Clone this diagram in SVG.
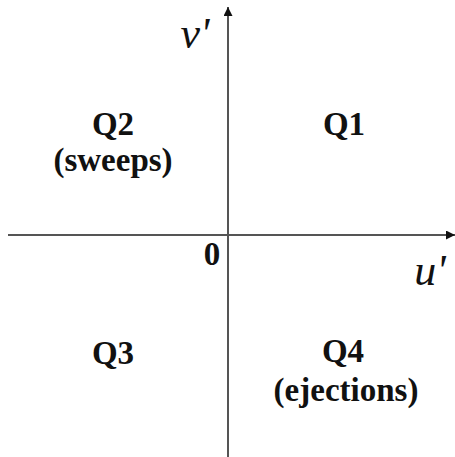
<svg xmlns="http://www.w3.org/2000/svg" width="455" height="457" viewBox="0 0 455 457">
<style>
.ax{stroke:#555;stroke-width:2;fill:none}
.q{font-weight:bold;font-size:33px;fill:#111;text-anchor:middle}
.v{font-style:italic;font-size:44px;fill:#111;text-anchor:middle}
</style>
<defs>
<marker id="ah" viewBox="0 0 10 10" refX="10" refY="5" markerWidth="9" markerHeight="9" markerUnits="userSpaceOnUse" orient="auto">
<path d="M0,0 L10,5 L0,10 z" fill="#111"/>
</marker>
</defs>
<rect width="455" height="457" fill="#fff"/>
<g id="connectors">
<line class="ax" x1="8" y1="235" x2="455" y2="235" marker-end="url(#ah)"/>
<line class="ax" x1="228" y1="457" x2="228" y2="7" marker-end="url(#ah)"/>
</g>
<g font-family="Liberation Serif, DejaVu Serif, serif">
<g id="labels">
<text class="v" x="195" y="48">v'</text>
<text class="v" x="430" y="285">u'</text>
<text class="q" x="212" y="265" font-size="22">0</text>
</g>
<g id="Q1"><text class="q" x="344" y="135">Q1</text></g>
<g id="Q2"><text class="q" x="113" y="135">Q2</text><text class="q" x="113" y="171">(sweeps)</text></g>
<g id="Q3"><text class="q" x="113" y="364">Q3</text></g>
<g id="Q4"><text class="q" x="343" y="362">Q4</text><text class="q" x="346" y="401">(ejections)</text></g>
</g>
</svg>
